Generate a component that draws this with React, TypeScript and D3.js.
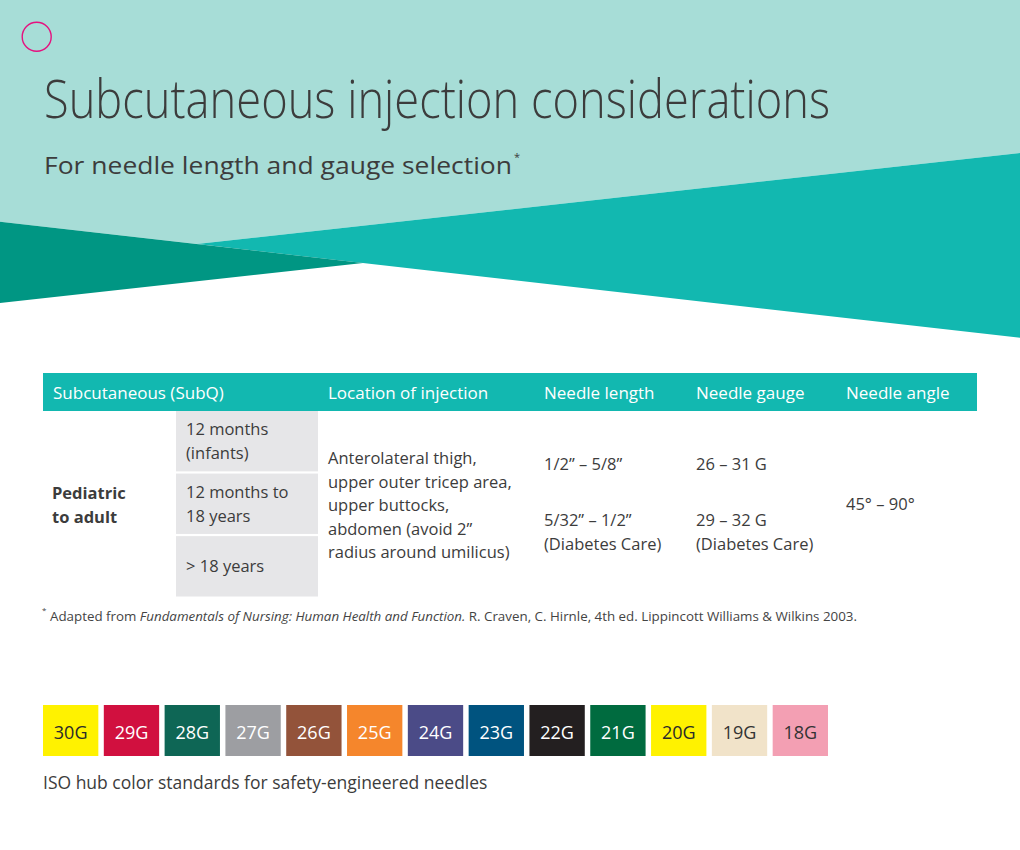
import * as d3 from "d3";

const W = 1020;
const H = 850;

// header band colours
const lightTeal = "#a7ddd7";
const midTeal = "#12b8b0";
const darkTeal = "#009683";
const textDark = "#3c3c3c";

const headers = ["Subcutaneous (SubQ)", "Location of injection", "Needle length", "Needle gauge", "Needle angle"];
const headerX = [53, 328, 544, 696, 846];

const groupLabel = ["Pediatric", "to adult"];
const ageRows = [["12 months", "(infants)"], ["12 months to", "18 years"], ["> 18 years"]];
const locationLines = [
  "Anterolateral thigh,",
  "upper outer tricep area,",
  "upper buttocks,",
  "abdomen (avoid 2\u201d",
  "radius around umilicus)",
];
const lengths = [["1/2\u201d \u2013 5/8\u201d"], ["5/32\u201d \u2013 1/2\u201d", "(Diabetes Care)"]];
const gaugesRange = [["26 \u2013 31 G"], ["29 \u2013 32 G", "(Diabetes Care)"]];
const angle = "45\u00b0 \u2013 90\u00b0";

const gauges = ["30G", "29G", "28G", "27G", "26G", "25G", "24G", "23G", "22G", "21G", "20G", "19G", "18G"];
const hubColors = ["#fff200", "#d1103f", "#0e6655", "#9d9ea2", "#93533a", "#f5862c", "#4b4b87", "#00537f", "#231f20", "#006b3f", "#fff200", "#f1e3c9", "#f39fb3"];
const hubText = ["#2a2a2a", "#fff", "#fff", "#fff", "#fff", "#fff", "#fff", "#fff", "#fff", "#fff", "#2a2a2a", "#333", "#333"];

const font = "'Open Sans', 'DejaVu Sans', sans-serif";

export default function App() {
  // band geometry at the top
  const lineA = (x: number) => 221.7 + 0.1138 * x; // dark teal top / mid teal bottom
  const lineB = (x: number) => 243 - 0.1093 * (x - 197);
  const apexX = 197;
  const lightPoly = [[0, 0], [W, 0], [W, lineB(W)], [apexX, lineA(apexX)], [0, lineA(0)]];
  const midPoly = [[apexX, lineA(apexX)], [W, lineB(W)], [W, lineA(W)]];
  const darkPoly = [[0, lineA(0)], [363, lineA(363)], [0, 303]];
  const poly = (p: number[][]) => d3.line()(p as [number, number][]) + "Z";

  const rowY = d3.scaleBand<number>().domain([0, 1, 2]).range([411, 596.5]).paddingInner(0.035);
  const hub = d3.scaleBand<string>().domain(gauges).range([43, 828]).paddingInner(0.09);

  const lh = 24;
  const fs = 16.5;

  return (
    <svg width={W} height={H} style={{ position: "absolute", left: 0, top: 0, background: "#fff" }} fontFamily={font}>
      <path d={poly(lightPoly)} fill={lightTeal} />
      <path d={poly(midPoly)} fill={midTeal} />
      <path d={poly(darkPoly)} fill={darkTeal} />
      <circle cx={36.7} cy={36.7} r={14.5} fill="none" stroke="#e5117f" strokeWidth={1.4} />

      <text x={44} y={118} fontSize={53} fontWeight={300} fill={textDark} textLength={786} lengthAdjust="spacingAndGlyphs">
        Subcutaneous injection considerations
      </text>
      <text x={44} y={174} fontSize={24} fill={textDark} textLength={468} lengthAdjust="spacingAndGlyphs">
        For needle length and gauge selection
      </text>
      <text x={514} y={161} fontSize={11} fill={textDark}>*</text>

      {/* table header */}
      <rect x={43} y={373} width={934} height={38} fill={midTeal} />
      {headers.map((h, i) => (
        <text key={h} x={headerX[i]} y={399} fontSize={17} fill="#fff">{h}</text>
      ))}

      {/* age cells */}
      {ageRows.map((lines, i) => {
        const y0 = rowY(i) as number;
        const bw = rowY.bandwidth();
        const start = y0 + bw / 2 - ((lines.length - 1) * lh) / 2 + 6;
        return (
          <g key={i}>
            <rect x={176} y={y0} width={142} height={bw} fill="#e6e6e8" />
            {lines.map((l, j) => (
              <text key={j} x={186} y={start + j * lh} fontSize={fs} fill={textDark}>{l}</text>
            ))}
          </g>
        );
      })}

      {groupLabel.map((l, j) => (
        <text key={l} x={52} y={499 + j * lh} fontSize={fs} fontWeight={700} fill={textDark}>{l}</text>
      ))}
      {locationLines.map((l, j) => (
        <text key={l} x={328} y={464 + j * 23.5} fontSize={fs} fill={textDark}>{l}</text>
      ))}
      {lengths.map((block, b) =>
        block.map((l, j) => (
          <text key={`${b}-${j}`} x={544} y={(b === 0 ? 470 : 526) + j * lh} fontSize={fs} fill={textDark}>{l}</text>
        ))
      )}
      {gaugesRange.map((block, b) =>
        block.map((l, j) => (
          <text key={`${b}-${j}`} x={696} y={(b === 0 ? 470 : 526) + j * lh} fontSize={fs} fill={textDark}>{l}</text>
        ))
      )}
      <text x={846} y={510} fontSize={fs} fill={textDark}>{angle}</text>

      {/* footnote */}
      <text x={42} y={613} fontSize={8} fill="#444">*</text>
      <text x={50} y={621} fontSize={12.5} fill="#444" textLength={807} lengthAdjust="spacingAndGlyphs">
        Adapted from{" "}
        <tspan fontStyle="italic">Fundamentals of Nursing: Human Health and Function.</tspan>
        {" "}R. Craven, C. Hirnle, 4th ed. Lippincott Williams &amp; Wilkins 2003.
      </text>

      {/* hub colour swatches */}
      {gauges.map((g, i) => (
        <g key={g}>
          <rect x={hub(g)} y={705} width={hub.bandwidth()} height={51} fill={hubColors[i]} />
          <text x={(hub(g) as number) + hub.bandwidth() / 2} y={738.5} fontSize={18} textAnchor="middle" fill={hubText[i]}>{g}</text>
        </g>
      ))}
      <text x={43} y={789} fontSize={17.5} fill={textDark}>ISO hub color standards for safety-engineered needles</text>
    </svg>
  );
}
